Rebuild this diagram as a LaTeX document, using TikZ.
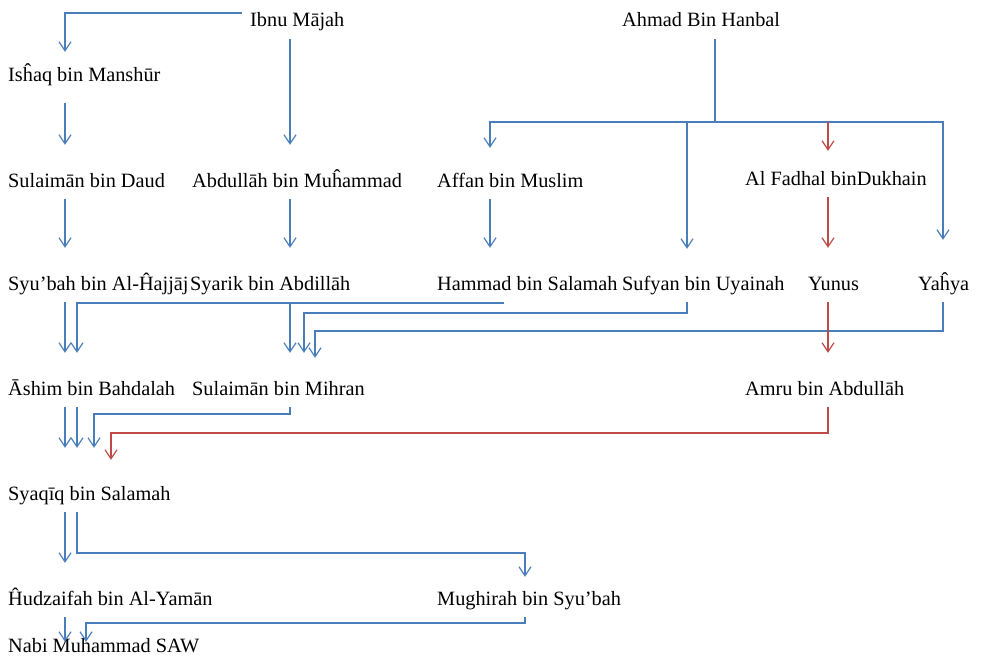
\documentclass[tikz,border=0pt]{standalone}
\usepackage{fontspec}
\setmainfont{Liberation Serif}
\usetikzlibrary{arrows.meta}
\definecolor{lineblue}{HTML}{4A7EBB}
\definecolor{linered}{HTML}{BE4B48}

\begin{document}
\begin{tikzpicture}[
    x=1pt, y=-1pt,
    narrator/.style={anchor=base west, inner xsep=0pt, inner ysep=8pt,
      text height=14pt, text depth=4pt, font=\fontsize{20.3}{24}\selectfont},
    blueline/.style={lineblue, line width=1.2pt,
      -{Straight Barb[length=9pt,width=12pt]}, shorten >=20pt},
    redline/.style={blueline, linered},
    trunk/.style={blueline, -, shorten >=0pt}
    ]
    \useasboundingbox (0,0) rectangle (982,658);

    % narrators, row by row
    \node[narrator] (ibnu) at (250,27) {Ibnu Mājah};
    \node[narrator] (ahmad) at (622,27) {Ahmad Bin Hanbal};

    \node[narrator] (ishaq) at (8,82) {Isĥaq bin Manshūr};

    \node[narrator] (sdaud) at (8,187) {Sulaimān bin Daud};
    \node[narrator] (abdm) at (192,187) {Abdullāh bin Muĥammad};
    \node[narrator] (affan) at (437,187) {Affan bin Muslim};
    \node[narrator] (fadhal) at (745,185) {Al Fadhal binDukhain};

    \node[narrator] (syubah) at (8,290) {Syu’bah bin Al-Ĥajjāj};
    \node[narrator] (syarik) at (190,290) {Syarik bin Abdillāh};
    \node[narrator] (hammad) at (437,290) {Hammad bin Salamah};
    \node[narrator] (sufyan) at (622,290) {Sufyan bin Uyainah};
    \node[narrator] (yunus) at (808,290) {Yunus};
    \node[narrator] (yahya) at (918,290) {Yaĥya};

    \node[narrator] (ashim) at (8,395) {Āshim bin Bahdalah};
    \node[narrator] (mihran) at (192,395) {Sulaimān bin Mihran};
    \node[narrator] (amru) at (745,395) {Amru bin Abdullāh};

    \node[narrator] (syaqiq) at (8,500) {Syaqīq bin Salamah};

    \node[narrator] (hudz) at (8,605) {Ĥudzaifah bin Al-Yamān};
    \node[narrator] (mughirah) at (437,605) {Mughirah bin Syu’bah};

    \node[narrator] (nabi) at (8,652) {Nabi Muhammad SAW};

    % columns and bend levels of the connectors
    \coordinate (xa) at (65,0);
    \coordinate (xb) at (77,0);
    \coordinate (xn) at (86,0);
    \coordinate (xm) at (94,0);
    \coordinate (xr) at (111,0);
    \coordinate (xd) at (290,0);
    \coordinate (xs1) at (304,0);
    \coordinate (xs2) at (315,0);
    \coordinate (xf) at (490,0);
    \coordinate (xh) at (503,0);
    \coordinate (xg) at (525,0);
    \coordinate (xs) at (687,0);
    \coordinate (xt) at (715,0);
    \coordinate (xu) at (828,0);
    \coordinate (xy) at (943,0);
    \coordinate (bus) at (715,122);
    \coordinate (yH) at (0,303);
    \coordinate (yS) at (0,313);
    \coordinate (yY) at (0,331);
    \coordinate (yM) at (0,414);
    \coordinate (yR) at (0,433);
    \coordinate (yG) at (0,553);
    \coordinate (yN) at (0,623);

    % Ibnu Majah line
    \draw[blueline, shorten >=8pt] ([shift={(-8pt,9pt)}]ibnu.west) -| (ishaq.north -| xa);
    \draw[blueline] (ibnu.south -| xd) -- (abdm.north -| xd);
    \draw[blueline, shorten <=9pt] (ishaq.south -| xa) -- (sdaud.north -| xa);

    % Ahmad Bin Hanbal line
    \draw[trunk] (ahmad.south -| xt) -- (bus);
    \draw[blueline, shorten >=17pt] (bus) -| (affan.north -| xf);
    \draw[blueline, shorten >=28pt] (bus) -| (yahya.north -| xy);
    \draw[blueline, shorten >=19pt] (bus -| xs) -- (sufyan.north -| xs);
    \draw[redline, shorten >=12pt] (bus -| xu) -- (fadhal.north -| xu);

    \draw[blueline] (sdaud.south -| xa) -- (syubah.north -| xa);
    \draw[blueline] (abdm.south -| xd) -- (syarik.north -| xd);
    \draw[blueline] (affan.south -| xf) -- (hammad.north -| xf);
    \draw[redline] (fadhal.south -| xu) -- (yunus.north -| xu);

    \draw[blueline] (syubah.south -| xa) -- (ashim.north -| xa);
    \draw[blueline] (hammad.south -| xh) |- (yH -| xb) -- (ashim.north -| xb);
    \draw[blueline] (syarik.south -| xd) -- (mihran.north -| xd);
    \draw[blueline] (sufyan.south -| xs) |- (yS -| xs1) -- (mihran.north -| xs1);
    \draw[blueline, shorten >=15pt] (yahya.south -| xy) |- (yY -| xs2) -- (mihran.north -| xs2);
    \draw[redline] (yunus.south -| xu) -- (amru.north -| xu);

    \draw[blueline, shorten >=30pt] (ashim.south -| xa) -- (syaqiq.north -| xa);
    \draw[blueline, shorten >=30pt] (ashim.south -| xb) -- (syaqiq.north -| xb);
    \draw[blueline, shorten >=30pt] (mihran.south -| xd) |- (yM -| xm) -- (syaqiq.north -| xm);
    \draw[redline, shorten >=18pt] (amru.south -| xu) |- (yR -| xr) -- (syaqiq.north -| xr);

    \draw[blueline] (syaqiq.south -| xa) -- (hudz.north -| xa);
    \draw[blueline, shorten >=6pt] (syaqiq.south -| xb) |- (yG -| xg) -- (mughirah.north -| xg);

    \draw[blueline, shorten >=-12pt] (hudz.south -| xa) -- (nabi.north -| xa);
    \draw[blueline, shorten >=-12pt] (mughirah.south -| xg) |- (yN -| xn) -- (nabi.north -| xn);

  \end{tikzpicture}
\end{document}
